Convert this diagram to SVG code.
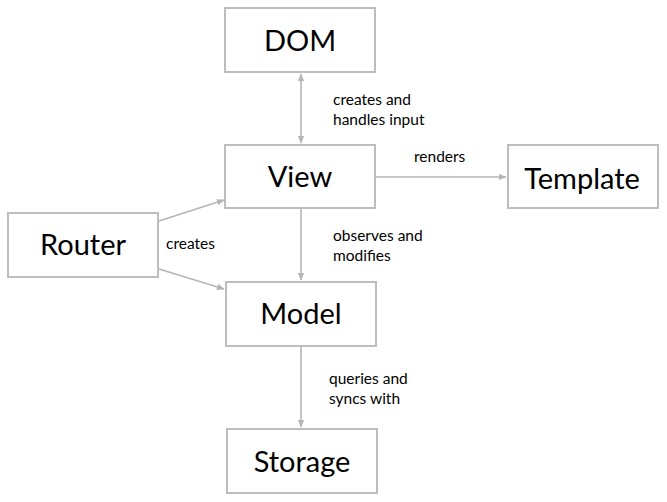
<svg xmlns="http://www.w3.org/2000/svg" width="667" height="502" viewBox="0 0 667 502">
<style>
.box{fill:#fff;stroke:#bdbdbd;stroke-width:2}
.nt{font-family:Lato,"Open Sans",sans-serif;font-size:29px;fill:#000;text-anchor:middle}
.lt{font-family:Lato,"Open Sans",sans-serif;font-size:15.5px;fill:#000}
.ln{stroke:#b5b5b5;stroke-width:1.6;fill:none}
</style>
<defs>
<marker id="ah" viewBox="0 0 10 10" refX="9" refY="5" markerWidth="5" markerHeight="5" orient="auto-start-reverse" markerUnits="strokeWidth">
<path d="M0,1 L10,5 L0,9 z" fill="#b5b5b5"/>
</marker>
</defs>
<rect width="667" height="502" fill="#fff"/>
<g id="connectors">
<line class="ln" x1="301" y1="74" x2="301" y2="143" marker-start="url(#ah)" marker-end="url(#ah)"/>
<line class="ln" x1="376" y1="177" x2="506" y2="177" marker-end="url(#ah)"/>
<line class="ln" x1="301" y1="209" x2="301" y2="280" marker-end="url(#ah)"/>
<line class="ln" x1="301" y1="347" x2="301" y2="427" marker-end="url(#ah)"/>
<line class="ln" x1="159" y1="221" x2="224" y2="200" marker-end="url(#ah)"/>
<line class="ln" x1="159" y1="269" x2="224" y2="289" marker-end="url(#ah)"/>
<text class="lt" x="333" y="105">creates and</text>
<text class="lt" x="333" y="125">handles input</text>
<text class="lt" x="414" y="162">renders</text>
<text class="lt" x="166" y="249">creates</text>
<text class="lt" x="333" y="241">observes and</text>
<text class="lt" x="333" y="261">modifies</text>
<text class="lt" x="329" y="384">queries and</text>
<text class="lt" x="329" y="404">syncs with</text>
</g>
<g id="dom"><rect class="box" x="225" y="8" width="150" height="64"/><text class="nt" x="300" y="51">DOM</text></g>
<g id="view"><rect class="box" x="225" y="145" width="150" height="63"/><text class="nt" x="300" y="187">View</text></g>
<g id="template"><rect class="box" x="508" y="145" width="150" height="63"/><text class="nt" x="582" y="189">Template</text></g>
<g id="router"><rect class="box" x="8" y="213" width="150" height="64"/><text class="nt" x="83" y="255">Router</text></g>
<g id="model"><rect class="box" x="226" y="282" width="150" height="64"/><text class="nt" x="301" y="324">Model</text></g>
<g id="storage"><rect class="box" x="227" y="429" width="150" height="64"/><text class="nt" x="302" y="472">Storage</text></g>
</svg>
